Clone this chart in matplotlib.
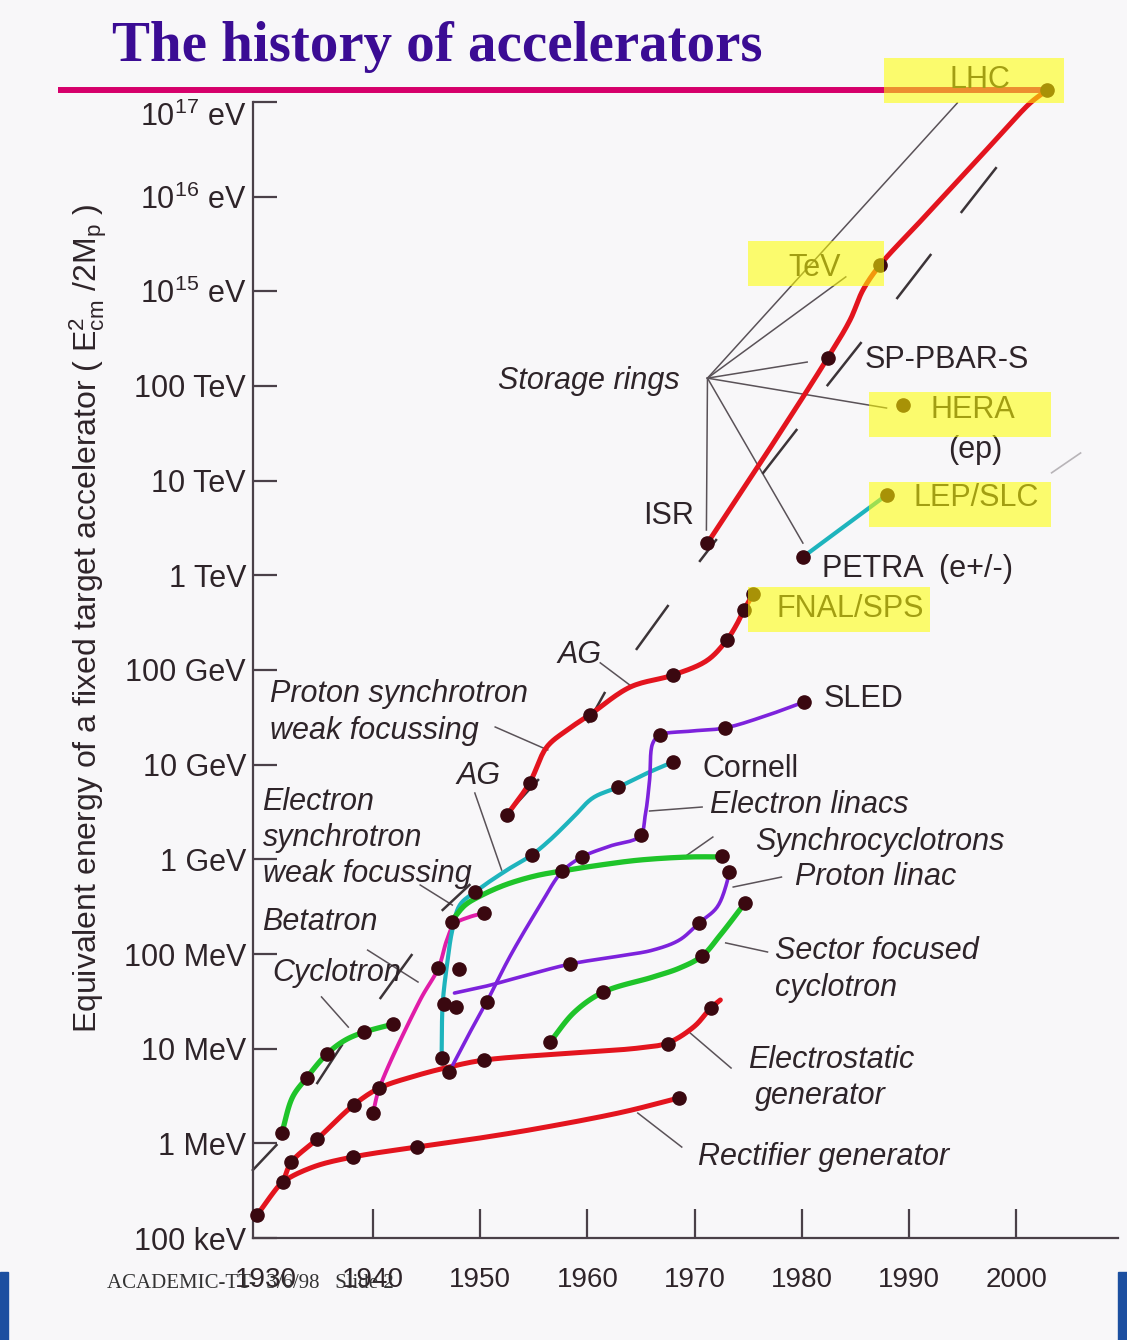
import numpy as np
import matplotlib
matplotlib.use("Agg")
import matplotlib.pyplot as plt
import matplotlib.transforms as mtransforms
from matplotlib.patches import Rectangle
from matplotlib.ticker import FixedLocator, NullLocator

plt.rcParams["font.family"] = ["Liberation Sans", "DejaVu Sans"]
plt.rcParams["mathtext.fontset"] = "custom"
plt.rcParams["mathtext.rm"] = "Liberation Sans"
plt.rcParams["mathtext.it"] = "Liberation Sans:italic"

# --- data : (year, energy in eV) ---
rectifier_curve = [(1929.2, 1.75e5), (1930.4, 2.71e5), (1931.6, 3.9e5), (1934.4, 5.62e5), (1938.1, 7.17e5),
                   (1944.1, 9.15e5), (1950.0, 1.14e6), (1955.6, 1.45e6), (1963.3, 2.14e6), (1968.5, 3.01e6)]
rectifier_dots = [(1929.2, 1.75e5), (1931.6, 3.9e5), (1938.1, 7.17e5), (1944.1, 9.15e5), (1968.5, 3.01e6)]

electrostatic_curve = [(1931.6, 3.9e5), (1932.4, 6.35e5), (1934.8, 1.11e6), (1938.2, 2.54e6), (1940.6, 3.84e6),
                       (1943.9, 5.14e6), (1947.1, 6.40e6), (1950.4, 7.59e6), (1958.7, 9.0e6), (1964.9, 1.02e7),
                       (1967.5, 1.15e7), (1970.0, 1.73e7), (1971.5, 2.69e7), (1972.4, 3.27e7)]
electrostatic_dots = [(1932.4, 6.35e5), (1934.8, 1.11e6), (1938.2, 2.54e6), (1940.6, 3.84e6), (1947.1, 5.67e6),
                      (1950.4, 7.59e6), (1967.5, 1.12e7), (1971.5, 2.69e7)]

cyclotron_curve = [(1931.5, 1.29e6), (1932.5, 3.08e6), (1933.8, 4.90e6), (1935.7, 8.79e6), (1937.4, 1.23e7),
                   (1939.2, 1.50e7), (1941.9, 1.82e7)]
cyclotron_dots = [(1931.5, 1.29e6), (1933.8, 4.90e6), (1935.7, 8.79e6), (1939.2, 1.50e7), (1941.9, 1.82e7)]

betatron_curve = [(1940.0, 2.09e6), (1940.6, 3.84e6), (1944.4, 3.27e7), (1946.1, 7.11e7), (1946.9, 1.41e8),
                  (1947.6, 2.07e8), (1949.0, 2.46e8), (1950.4, 2.71e8)]
betatron_dots = [(1940.0, 2.09e6), (1946.1, 7.11e7), (1947.4, 2.18e8), (1950.4, 2.71e8)]

e_synchrotron_curve = [(1946.4, 7.96e6), (1946.5, 2.96e7), (1946.9, 7.65e7), (1947.4, 1.79e8), (1948.1, 3.29e8),
                       (1949.5, 4.52e8), (1952.5, 7.71e8), (1954.8, 1.11e9), (1956.5, 1.60e9), (1958.7, 2.80e9),
                       (1960.5, 4.45e9), (1962.9, 5.81e9), (1965.6, 8.17e9), (1968.0, 1.07e10)]
e_synchrotron_dots = [(1946.4, 7.96e6), (1946.6, 2.97e7), (1948.0, 6.93e7), (1949.5, 4.52e8), (1954.8, 1.11e9),
                      (1962.9, 5.81e9), (1968.0, 1.07e10)]

synchrocyclotron_curve = [(1947.4, 2.29e8), (1948.6, 3.29e8), (1950.0, 4.10e8), (1952.3, 5.36e8), (1955.1, 6.67e8),
                          (1957.6, 7.53e8), (1961.2, 8.71e8), (1964.9, 9.84e8), (1969.6, 1.06e9), (1972.6, 1.06e9)]
synchrocyclotron_dots = [(1957.6, 7.53e8), (1972.6, 1.08e9)]

e_linac_curve = [(1947.1, 5.67e6), (1948.9, 1.39e7), (1950.6, 3.11e7), (1952.8, 9.53e7), (1955.6, 3.29e8),
                 (1957.6, 7.35e8), (1959.5, 1.06e9), (1962.1, 1.38e9), (1964.9, 1.76e9), (1965.4, 2.94e9),
                 (1965.8, 6.89e9), (1966.1, 1.69e10), (1966.8, 2.06e10), (1969.6, 2.26e10), (1972.8, 2.44e10),
                 (1976.6, 3.27e10), (1980.2, 4.59e10)]
e_linac_dots = [(1950.6, 3.11e7), (1959.5, 1.06e9), (1965.0, 1.81e9), (1966.8, 2.06e10), (1972.8, 2.44e10),
                (1980.2, 4.59e10)]

p_linac_curve = [(1947.6, 3.87e7), (1950.6, 4.59e7), (1953.7, 5.71e7), (1958.4, 7.84e7), (1963.0, 9.53e7),
                 (1966.1, 1.10e8), (1968.6, 1.41e8), (1970.4, 2.12e8), (1972.1, 3.13e8), (1973.0, 5.62e8),
                 (1973.2, 7.35e8)]
p_linac_dots = [(1947.7, 2.75e7), (1958.4, 7.84e7), (1970.4, 2.12e8), (1973.2, 7.35e8)]

sector_curve = [(1956.5, 1.17e7), (1958.8, 2.44e7), (1961.5, 3.97e7), (1966.1, 5.71e7), (1968.6, 7.11e7),
                (1970.7, 9.53e7), (1972.4, 1.59e8), (1974.7, 3.46e8)]
sector_dots = [(1956.5, 1.17e7), (1961.5, 3.97e7), (1970.7, 9.53e7), (1974.7, 3.46e8)]

p_synchrotron_curve = [(1952.5, 2.94e9), (1954.6, 6.40e9), (1956.2, 1.53e10), (1958.1, 2.32e10), (1960.2, 3.35e10),
                       (1964.0, 6.61e10), (1968.0, 8.85e10), (1971.2, 1.27e11), (1973.0, 2.07e11), (1973.9, 2.99e11),
                       (1974.6, 4.30e11), (1975.4, 6.19e11)]
p_synchrotron_dots = [(1952.5, 2.94e9), (1954.6, 6.40e9), (1960.2, 3.35e10), (1968.0, 8.85e10), (1973.0, 2.07e11),
                      (1974.6, 4.30e11), (1975.4, 6.35e11)]

hadron_collider_curve = [(1971.2, 2.19e12), (1976.8, 2.01e13), (1982.4, 1.97e14), (1984.5, 4.98e14),
                         (1985.7, 1.03e15), (1987.3, 1.90e15), (1991.0, 5.40e15), (1994.8, 1.57e16),
                         (1998.5, 4.48e16), (2001.3, 9.75e16), (2002.9, 1.34e17)]
hadron_collider_dots = [(1971.2, 2.19e12), (1982.4, 1.97e14), (1987.3, 1.90e15), (2002.9, 1.34e17)]

lepton_collider_curve = [(1980.1, 1.56e12), (1987.9, 7.05e12)]
lepton_collider_dots = [(1980.1, 1.56e12), (1987.9, 7.05e12)]

hera_dot = [(1989.4, 6.30e13)]
lhc_point = (2002.9, 1.34e17)

year_ticks = [1930, 1940, 1950, 1960, 1970, 1980, 1990, 2000]
energy_ticks = [1e5, 1e6, 1e7, 1e8, 1e9, 1e10, 1e11, 1e12, 1e13, 1e14, 1e15, 1e16, 1e17]
energy_labels = ["100 keV", "1 MeV", "10 MeV", "100 MeV", "1 GeV", "10 GeV", "100 GeV", "1 TeV",
                 "10 TeV", "100 TeV", "10$^{15}$ eV", "10$^{16}$ eV", "10$^{17}$ eV"]

# labels : text, year, eV, italic
labels = [
    ("Storage rings", 1951.7, 1.13e14, True),
    ("SP-PBAR-S", 1985.9, 1.88e14, False),
    ("HERA", 1992.0, 5.57e13, False),
    ("(ep)", 1993.6, 2.11e13, False),
    ("LEP/SLC", 1990.4, 6.56e12, False),
    ("ISR", 1965.2, 4.23e12, False),
    ("PETRA  (e+/-)", 1981.9, 1.17e12, False),
    ("FNAL/SPS", 1977.6, 4.41e11, False),
    ("AG", 1957.2, 1.44e11, True),
    ("SLED", 1982.0, 4.93e10, False),
    ("Proton synchrotron", 1930.4, 5.57e10, True),
    ("weak focussing", 1930.4, 2.27e10, True),
    ("AG", 1947.8, 7.59e9, True),
    ("Cornell", 1970.7, 9.0e9, False),
    ("Electron linacs", 1971.4, 3.75e9, True),
    ("Electron", 1929.7, 4.03e9, True),
    ("synchrotron", 1929.7, 1.68e9, True),
    ("weak focussing", 1929.7, 7.0e8, True),
    ("Synchrocyclotrons", 1975.6, 1.52e9, True),
    ("Proton linac", 1979.4, 6.50e8, True),
    ("Betatron", 1929.7, 2.18e8, True),
    ("Cyclotron", 1930.6, 6.30e7, True),
    ("Sector focused", 1977.5, 1.08e8, True),
    ("cyclotron", 1977.5, 4.37e7, True),
    ("Electrostatic", 1975.0, 7.59e6, True),
    ("generator", 1975.6, 3.16e6, True),
    ("Rectifier generator", 1970.3, 7.17e5, True),
    ("TeV", 1978.7, 1.76e15, False),
    ("LHC", 1993.8, 1.71e17, False),
]

# leader lines from labels
fan = (1971.2, 1.21e14)
leaders = [
    (fan, (1971.1, 3.01e12)), (fan, (1980.1, 2.19e12)), (fan, (1987.9, 5.85e13)),
    (fan, (1980.5, 1.79e14)), (fan, (1994.5, 9.75e16)), (fan, (1984.1, 1.42e15)),
    ((1961.2, 1.19e11), (1964.2, 6.61e10)),
    ((1951.4, 2.50e10), (1956.3, 1.43e10)),
    ((1949.5, 5.02e9), (1952.0, 7.71e8)),
    ((1944.4, 5.36e8), (1947.4, 3.29e8)),
    ((1939.5, 1.10e8), (1944.2, 5.06e7)),
    ((1935.2, 3.52e7), (1937.7, 1.69e7)),
    ((1965.8, 3.24e9), (1970.7, 3.57e9)),
    ((1969.3, 1.11e9), (1971.7, 1.72e9)),
    ((1973.6, 5.10e8), (1978.1, 6.50e8)),
    ((1972.9, 1.31e8), (1976.8, 1.05e8)),
    ((1969.6, 1.46e7), (1973.4, 6.25e6)),
    ((1964.7, 2.09e6), (1968.8, 9.14e5)),
]
# short slashes beside the curves
slashes = [
    ((1994.9, 6.89e15), (1998.1, 2.00e16)),
    ((1988.9, 8.49e14), (1992.0, 2.42e15)),
    ((1982.4, 1.02e14), (1985.5, 2.84e14)),
    ((1976.4, 1.21e13), (1979.5, 3.43e13)),
    ((1970.5, 1.42e12), (1972.0, 2.36e12)),
    ((1964.6, 1.67e11), (1967.5, 4.74e11)),
    ((1960.1, 2.82e10), (1961.6, 5.71e10)),
    ((1953.0, 3.48e9), (1955.4, 6.89e9)),
    ((1934.8, 4.34e6), (1937.1, 1.09e7)),
    ((1928.8, 5.23e5), (1931.0, 9.60e5)),
    ((1940.7, 3.43e7), (1943.6, 9.75e7)),
    ((1946.5, 2.92e8), (1949.0, 5.36e8)),
]
# yellow highlighter boxes : year0, year1, eV0, eV1
highlights = [
    (1987.7, 2004.5, 9.75e16, 2.91e17),
    (1975.0, 1987.7, 1.14e15, 3.40e15),
    (1986.3, 2003.2, 2.89e13, 8.63e13),
    (1986.3, 2003.2, 3.24e12, 9.68e12),
    (1975.0, 1992.0, 2.52e11, 7.53e11),
]

# --- style ---
BG = "#f8f7f9"
RED = "#e3141e"
GREEN = "#1fc42a"
CYAN = "#1eb4bd"
PURPLE = "#7d22dc"
MAGENTA = "#e01ca8"
DOT = "#3a0810"
INK = "#2e2429"
AXIS = "#4a4048"

fig = plt.figure(figsize=(11.27, 13.40), dpi=100)
fig.patch.set_facecolor(BG)
ax = fig.add_axes([0.2245, 0.0761, 0.7675, 0.8791])
ax.set_facecolor("none")
ax.set_yscale("log")
ax.set_xlim(1928.81, 2009.49)
ax.set_ylim(1e5, 10 ** 17.443)


# hand-drawn look: centripetal Catmull-Rom through the read points, done in screen space
def smooth(points, steps=16):
    pts = ax.transData.transform(points)
    if len(pts) < 3:
        return [p[0] for p in points], [p[1] for p in points]
    P = np.vstack([2 * pts[0] - pts[1], pts, 2 * pts[-1] - pts[-2]])
    out = [pts[0]]
    for i in range(1, len(P) - 2):
        p0, p1, p2, p3 = P[i - 1], P[i], P[i + 1], P[i + 2]
        t0 = 0.0
        t1 = t0 + max(np.linalg.norm(p1 - p0), 1e-6) ** 0.5
        t2 = t1 + max(np.linalg.norm(p2 - p1), 1e-6) ** 0.5
        t3 = t2 + max(np.linalg.norm(p3 - p2), 1e-6) ** 0.5
        for t in np.linspace(t1, t2, steps)[1:]:
            a1 = (t1 - t) / (t1 - t0) * p0 + (t - t0) / (t1 - t0) * p1
            a2 = (t2 - t) / (t2 - t1) * p1 + (t - t1) / (t2 - t1) * p2
            a3 = (t3 - t) / (t3 - t2) * p2 + (t - t2) / (t3 - t2) * p3
            b1 = (t2 - t) / (t2 - t0) * a1 + (t - t0) / (t2 - t0) * a2
            b2 = (t3 - t) / (t3 - t1) * a2 + (t - t1) / (t3 - t1) * a3
            out.append((t2 - t) / (t2 - t1) * b1 + (t - t1) / (t2 - t1) * b2)
    data = ax.transData.inverted().transform(np.array(out))
    return data[:, 0], data[:, 1]


series = [
    (rectifier_curve, rectifier_dots, RED, 3.6),
    (electrostatic_curve, electrostatic_dots, RED, 3.6),
    (cyclotron_curve, cyclotron_dots, GREEN, 3.8),
    (betatron_curve, betatron_dots, MAGENTA, 2.8),
    (e_synchrotron_curve, e_synchrotron_dots, CYAN, 3.0),
    (synchrocyclotron_curve, synchrocyclotron_dots, GREEN, 3.8),
    (e_linac_curve, e_linac_dots, PURPLE, 2.6),
    (p_linac_curve, p_linac_dots, PURPLE, 2.6),
    (sector_curve, sector_dots, GREEN, 3.8),
    (p_synchrotron_curve, p_synchrotron_dots, RED, 3.6),
    (hadron_collider_curve, hadron_collider_dots, RED, 3.6),
    (lepton_collider_curve, lepton_collider_dots, CYAN, 3.0),
    ([], hera_dot, CYAN, 3.0),
]

for curve, dots, color, lw in series:
    if curve:
        xs, ys = smooth(curve)
        ax.plot(xs, ys, color=color, lw=lw, solid_capstyle="round", solid_joinstyle="round",
                zorder=3, clip_on=False)
    ax.plot([p[0] for p in dots], [p[1] for p in dots], "o", ms=9.5, color=DOT,
            mec=DOT, zorder=4, clip_on=False)

for a, b in leaders:
    ax.plot([a[0], b[0]], [a[1], b[1]], color="#5a5258", lw=1.1, zorder=2)
for a, b in slashes:
    ax.plot([a[0], b[0]], [a[1], b[1]], color="#3c3438", lw=1.8, zorder=2, clip_on=False)
# faint pencil mark next to LEP
ax.plot([2003.3, 2006.0], [1.21e13, 1.96e13], color="#b8b4b8", lw=1.2, zorder=2)

for text, yr, ev, italic in labels:
    ax.text(yr, ev, text, fontsize=22, color=INK, ha="left", va="center",
            style="italic" if italic else "normal", zorder=5)

# magenta line at the LHC energy, running out to the left margin
x_left = ax.transData.inverted().transform(fig.transFigure.transform((58 / 1127, 0.5)))[0]
ax.plot([x_left, lhc_point[0]], [lhc_point[1], lhc_point[1]], color="#d6006b", lw=4.3,
        zorder=2.5, clip_on=False, solid_capstyle="butt")

for x0, x1, e0, e1 in highlights:
    ax.fill([x0, x1, x1, x0], [e0, e0, e1, e1], color="#ffff00", alpha=0.56, lw=0,
            zorder=10, clip_on=False)

# axes
for side in ["top", "right"]:
    ax.spines[side].set_visible(False)
ax.spines["left"].set_bounds(1e5, 1e17)
for side in ["left", "bottom"]:
    ax.spines[side].set_color(AXIS)
    ax.spines[side].set_linewidth(1.6)

ax.yaxis.set_major_locator(FixedLocator(energy_ticks))
ax.yaxis.set_minor_locator(NullLocator())
ax.set_yticklabels(energy_labels)
ax.tick_params(axis="y", direction="in", length=17, width=1.6, color=AXIS, pad=5,
               labelsize=22, labelcolor=INK)
# the top label sits a little under its tick on the slide
top_label = ax.get_yticklabels()[-1]
top_label.set_transform(top_label.get_transform()
                        + mtransforms.ScaledTranslation(0, -0.12, fig.dpi_scale_trans))

ax.xaxis.set_major_locator(FixedLocator(year_ticks))
ax.set_xticklabels([str(y) for y in year_ticks])
ax.tick_params(axis="x", direction="in", length=21, width=1.6, color=AXIS, pad=21,
               labelsize=20, labelcolor=INK)
ax.xaxis.get_major_ticks()[0].tick1line.set_visible(False)

fig.text(0.078, 0.5388,
         r"Equivalent energy of a fixed target accelerator ( $\mathrm{E_{cm}^{2}}$ /2M$_\mathrm{p}$ )",
         rotation=90, ha="center", va="center", fontsize=23, color=INK)

fig.text(0.388, 0.965, "The history of accelerators", ha="center", va="center",
         fontsize=41, fontweight="bold", family="Liberation Serif", color="#3b0c94")

fig.text(0.095, 0.0425, "ACADEMIC-TT-  3/6/98   Slide 2", ha="left", va="center",
         fontsize=15, family="Liberation Serif", color="#333333", zorder=0)

fig.patches.append(Rectangle((0, 0), 0.0071, 0.0507, transform=fig.transFigure,
                             color="#1c4fa0", zorder=0))
fig.patches.append(Rectangle((0.992, 0), 0.008, 0.0507, transform=fig.transFigure,
                             color="#1c4fa0", zorder=0))

fig.savefig("out.png", dpi=100, facecolor=fig.get_facecolor())
